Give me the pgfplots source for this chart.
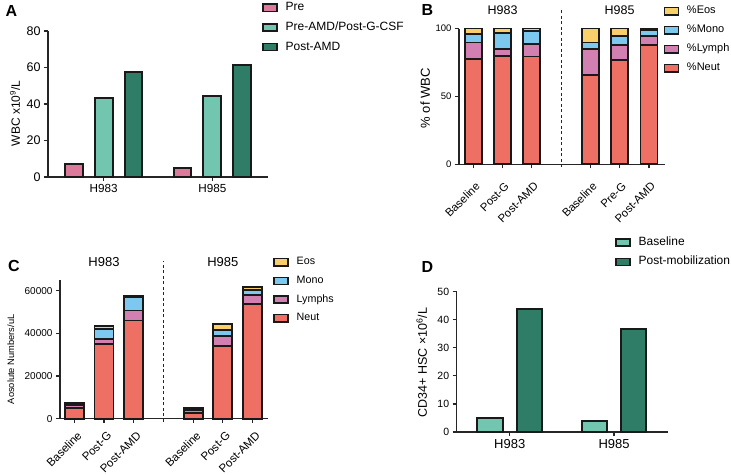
\documentclass[border=0pt]{standalone}
\usepackage{fontspec}
\setmainfont{Liberation Sans}
\usepackage{pgfplots}
\pgfplotsset{compat=1.18}

\definecolor{preC}{HTML}{DC7A9C}
\definecolor{tealL}{HTML}{72C6B0}
\definecolor{tealD}{HTML}{2F7D66}
\definecolor{neut}{HTML}{EE6F63}
\definecolor{lymph}{HTML}{D27FB1}
\definecolor{mono}{HTML}{7CC8EE}
\definecolor{eos}{HTML}{F8CF6B}

\newcommand{\fs}[1]{\fontsize{#1}{#1}\selectfont}

\pgfplotsset{
  panel/.style={
    scale only axis, anchor=south west, clip=false,
    axis lines*=left,
    axis line style={line width=1.3pt, black!85},
    tick style={line width=1.2pt, black!85},
    tick align=outside, major tick length=4pt,
    ymin=0,
    /pgf/number format/assume math mode=true,
    /pgf/number format/1000 sep={},
    scaled y ticks=false,
    legend cell align=left,
  },
  sqlegend/.style={
    legend image code/.code={\draw[##1, line width=1.5pt] (0pt,-3.6pt) rectangle (14pt,3.6pt);}
  },
  sq/.style={draw=black!90, line width=2pt},
}

\begin{document}
\begin{tikzpicture}
\useasboundingbox (0,0) rectangle (731pt,474pt);

% ---------- A ----------
\begin{axis}[panel, at={(48pt,297pt)}, width=220pt, height=146pt,
  ymax=80, ytick={0,20,40,60,80},
  xmin=-0.51, xmax=1.51, xtick={0,1}, xticklabels={H983,H985},
  yticklabel style={font=\fs{12.5}},
  xticklabel style={font=\fs{11.7}},
  ybar, bar width=0.165, sqlegend,
  ylabel={WBC x10\textsuperscript{9}/L},
  every axis y label/.style={at={(axis description cs:-0.15,0.436)}, rotate=90, anchor=center, font=\fs{12}},
  legend style={draw=none, fill=none, at={(0.9727,1.202)}, anchor=north west, inner sep=0pt,
    column sep=8pt, row sep=7.7pt, font=\fs{12},
    nodes={inner sep=0pt, text height=9pt, text depth=3pt}},
]
\addplot[sq, fill=preC, bar shift=-0.275] coordinates {(0,7.3) (1,5.1)};
\addplot[sq, fill=tealL, bar shift=0] coordinates {(0,43.5) (1,44.2)};
\addplot[sq, fill=tealD, bar shift=0.275] coordinates {(0,57.7) (1,61.4)};
\legend{Pre,Pre-AMD/Post-G-CSF,Post-AMD}
\end{axis}

% ---------- B ----------
\begin{axis}[panel, at={(459pt,309.7pt)}, width=206pt, height=135.7pt,
  ymax=100, ytick={0,50,100},
  xmin=-0.49, xmax=6.55, xtick={0,1,2,4,5,6},
  xticklabels={Baseline,Post-G,Post-AMD,Baseline,Pre-G,Post-AMD},
  yticklabel style={font=\fs{9.5}},
  xticklabel style={font=\fs{11.3}, inner sep=0pt, xshift=4.5pt, yshift=-16pt, rotate=45, anchor=east},
  ybar stacked, bar width=0.58, sqlegend, reverse legend,
  ylabel={\% of WBC},
  every axis y label/.style={at={(axis description cs:-0.164,0.486)}, rotate=90, anchor=center, font=\fs{13}},
  legend style={draw=none, fill=none, at={(0.9917,1.170)}, anchor=north west, inner sep=0pt,
    column sep=8pt, row sep=8pt, font=\fs{11},
    nodes={inner sep=0pt, text height=8pt, text depth=3pt}},
]
\addplot[sq, line width=1.8pt, fill=neut] coordinates {(0,77.6) (1,79.8) (2,79.4) (4,65.6) (5,76.9) (6,87.9)};
\addplot[sq, line width=1.8pt, fill=lymph] coordinates {(0,12.2) (1,5.3) (2,9.4) (4,19.4) (5,11.0) (6,6.6)};
\addplot[sq, line width=1.8pt, fill=mono] coordinates {(0,6.2) (1,11.4) (2,9.4) (4,4.8) (5,6.8) (6,4.5)};
\addplot[sq, line width=1.8pt, fill=eos] coordinates {(0,4.0) (1,3.5) (2,1.8) (4,10.2) (5,5.3) (6,1.0)};
\legend{\%Neut,\%Lymph,\%Mono,\%Eos}
\draw[black!85, line width=1.1pt, dash pattern=on 3pt off 2.5pt] (axis cs:3,-2) -- (axis cs:3,114);
\node[font=\fs{12.5}] at (axis cs:1,113.7) {H983};
\node[font=\fs{12.5}] at (axis cs:5,113.7) {H985};
\end{axis}

% ---------- C ----------
\begin{axis}[panel, at={(60pt,55.3pt)}, width=208pt, height=138.7pt,
  ymax=65000, ytick={0,20000,40000,60000},
  xmin=-0.48, xmax=6.52, xtick={0,1,2,4,5,6},
  xticklabels={Baseline,Post-G,Post-AMD,Baseline,Post-G,Post-AMD},
  yticklabel style={font=\fs{10}},
  xticklabel style={font=\fs{11.5}, inner sep=0pt, xshift=5.5pt, yshift=-11pt, rotate=45, anchor=east},
  ybar stacked, bar width=0.64, sqlegend, reverse legend,
  ylabel={Aosolute Numbers/uL},
  every axis y label/.style={at={(axis description cs:-0.237,0.428)}, rotate=90, anchor=center, font=\fs{9.3}},
  legend style={draw=none, fill=none, at={(1.024,1.1694)}, anchor=north west, inner sep=0pt,
    column sep=8pt, row sep=7.7pt, font=\fs{10.7},
    nodes={inner sep=0pt, text height=8pt, text depth=3pt}},
]
\addplot[sq, line width=1.8pt, fill=neut] coordinates {(0,5200) (1,34870) (2,46000) (4,2800) (5,34080) (6,53770)};
\addplot[sq, line width=1.8pt, fill=lymph] coordinates {(0,1000) (1,2500) (2,4700) (4,1200) (5,4690) (6,4210)};
\addplot[sq, line width=1.8pt, fill=mono] coordinates {(0,800) (1,4840) (2,6100) (4,700) (5,2810) (6,2350)};
\addplot[sq, line width=1.8pt, fill=eos] coordinates {(0,500) (1,1400) (2,700) (4,460) (5,2810) (6,1260)};
\legend{Neut,Lymphs,Mono,Eos}
\draw[black!85, line width=1.1pt, dash pattern=on 3pt off 2.5pt] (axis cs:3,-1400) -- (axis cs:3,74060);
\node[font=\fs{13}] at (axis cs:1,73450) {H983};
\node[font=\fs{13}] at (axis cs:5,73450) {H985};
\end{axis}

% ---------- D ----------
\begin{axis}[panel, at={(456.7pt,42pt)}, width=211.6pt, height=140.3pt,
  ymax=50, ytick={0,10,20,30,40,50},
  xmin=-0.508, xmax=1.52, xtick={0,1}, xticklabels={H983,H985},
  yticklabel style={font=\fs{10.5}},
  xticklabel style={font=\fs{13}},
  ybar, bar width=0.243, sqlegend,
  ylabel={CD34+ HSC ×10\textsuperscript{6}/L},
  every axis y label/.style={at={(axis description cs:-0.165,0.495)}, rotate=90, anchor=center, font=\fs{12.5}},
  legend style={draw=none, fill=none, at={(0.748,1.395)}, anchor=north west, inner sep=0pt,
    column sep=8pt, row sep=7.4pt, font=\fs{12},
    nodes={inner sep=0pt, text height=9pt, text depth=3pt}},
]
\addplot[sq, fill=tealL, bar shift=-0.189] coordinates {(0,4.9) (1,4.0)};
\addplot[sq, fill=tealD, bar shift=0.189] coordinates {(0,43.7) (1,36.7)};
\legend{Baseline,Post-mobilization}
\end{axis}

% panel letters
\node[anchor=west, font=\bfseries\fs{16}] at (2pt,463.3pt) {A};
\node[anchor=west, font=\bfseries\fs{16}] at (418pt,464pt) {B};
\node[anchor=west, font=\bfseries\fs{16}] at (4.5pt,208.3pt) {C};
\node[anchor=west, font=\bfseries\fs{16}] at (418pt,207.3pt) {D};
\end{tikzpicture}
\end{document}
